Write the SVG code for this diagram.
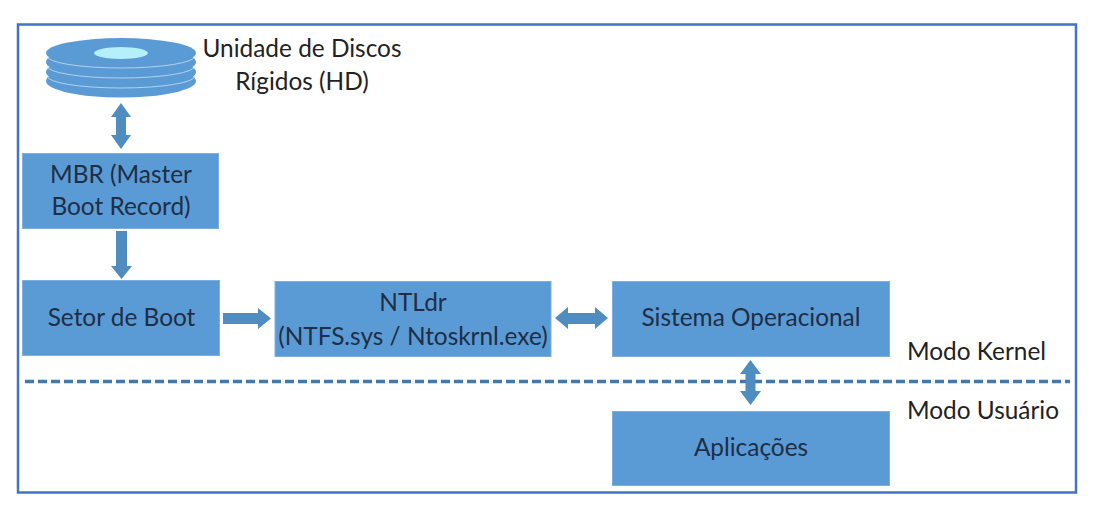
<svg xmlns="http://www.w3.org/2000/svg" width="1094" height="518" viewBox="0 0 1094 518">
<style>
text{font-family:Lato,"Open Sans","Liberation Sans",sans-serif;font-size:24.400px;text-anchor:middle}
.box{fill:#5b9bd5;stroke:#7fb0dd;stroke-width:1}
.box-t{fill:#1f2d45}
.lab{fill:#222222}
.side{text-anchor:start}
.arrow{fill:#4f8cc0}
.disc{fill:#5b9bd5}
.rim{fill:none;stroke:#cfe3f3;stroke-width:1;stroke-opacity:.75}
</style>
<rect x="0" y="0" width="1094" height="518" fill="#ffffff"/>
<rect id="frame" x="18" y="24.500" width="1058" height="468" fill="#ffffff" stroke="#4472c4" stroke-width="2.500"/>
<g id="disk">
<ellipse class="disc" cx="121" cy="81" rx="75" ry="16.500"/>
<ellipse class="disc" cx="121" cy="72" rx="75" ry="16.500"/>
<ellipse class="disc" cx="121" cy="62" rx="75" ry="16.500"/>
<ellipse class="disc" cx="121" cy="53" rx="75" ry="15"/>
<path class="rim" d="M47 56A74 12 0 0 0 195 56"/>
<path class="rim" d="M47 66A74 12 0 0 0 195 66"/>
<path class="rim" d="M47 76A74 12 0 0 0 195 76"/>
<ellipse cx="121" cy="53" rx="27" ry="6" fill="#b5effa"/>
</g>
<g id="disk-label">
<text class="lab" x="302" y="57">Unidade de Discos</text>
<text class="lab" x="302" y="90">Rígidos (HD)</text>
</g>
<g id="mbr">
<rect class="box" x="22.500" y="153.500" width="196" height="75"/>
<text class="box-t" x="121" y="183">MBR (Master</text>
<text class="box-t" x="121" y="215">Boot Record)</text>
</g>
<g id="setor">
<rect class="box" x="22.500" y="280.500" width="197" height="75"/>
<text class="box-t" x="121.500" y="326">Setor de Boot</text>
</g>
<g id="ntldr">
<rect class="box" x="275" y="281.500" width="276" height="75"/>
<text class="box-t" x="413" y="311">NTLdr</text>
<text class="box-t" x="413" y="345">(NTFS.sys / Ntoskrnl.exe)</text>
</g>
<g id="so">
<rect class="box" x="612.500" y="281.500" width="277" height="75"/>
<text class="box-t" x="751" y="326">Sistema Operacional</text>
</g>
<g id="apl">
<rect class="box" x="612.500" y="411.500" width="277" height="74"/>
<text class="box-t" x="751" y="456">Aplicações</text>
</g>
<g id="mode-labels">
<text class="lab side" x="907" y="360">Modo Kernel</text>
<text class="lab side" x="907" y="419">Modo Usuário</text>
</g>
<g id="connectors">
<line x1="25" y1="381.500" x2="1070" y2="381.500" stroke="#3f79ad" stroke-width="3.500" stroke-dasharray="9 4"/>
<polygon class="arrow" points="121,103 131,117 126,117 126,135 131,135 121,149 111,135 116,135 116,117 111,117"/>
<polygon class="arrow" points="116,231 127,231 127,266 132,266 121.500,279 111,266 116,266"/>
<polygon class="arrow" points="223,313 258,313 258,308 271,318.500 258,329 258,324 223,324"/>
<polygon class="arrow" points="555,318 568,307 568,313 595,313 595,307 608,318 595,329 595,324 568,324 568,329"/>
<polygon class="arrow" points="750.500,360 761,374 755.500,374 755.500,391 761,391 750.500,405 740,391 745.500,391 745.500,374 740,374"/>
</g>
</svg>
